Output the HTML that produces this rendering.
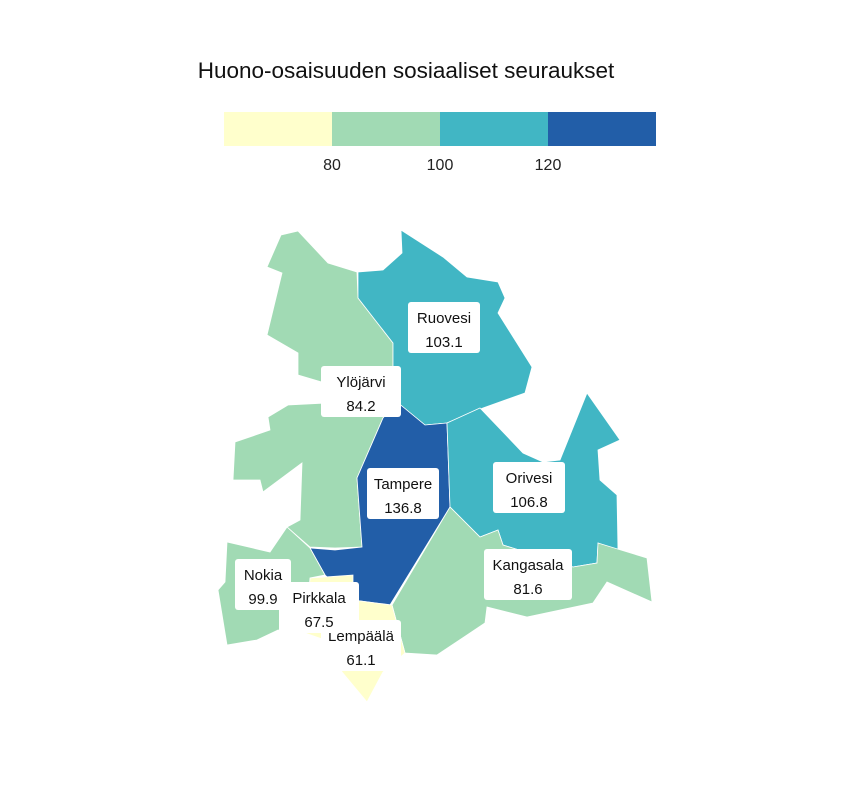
<!DOCTYPE html>
<html><head><meta charset="utf-8">
<style>
body{margin:0;background:#fff;font-family:"Liberation Sans",sans-serif;}
svg{display:block}
</style></head>
<body>
<svg width="864" height="792" viewBox="0 0 864 792">
<text x="406" y="78" font-size="22.5" text-anchor="middle" fill="#111">Huono-osaisuuden sosiaaliset seuraukset</text>
<g id="legend"></g>
<g id="map"></g>
<g id="labels"></g>
</svg>
<script>
const regions = ["Ylöjärvi","Ruovesi","Tampere","Orivesi","Kangasala","Lempäälä","Pirkkala","Nokia"];
const values = [84.2,103.1,136.8,106.8,81.6,61.1,67.5,99.9];
const breaks = [80,100,120];
const colors = ["#ffffcc","#a1dab4","#41b6c4","#225ea8"];
const tickLabels = ["80","100","120"];

const shapes = {
"Ylöjärvi":"267,267 281,235 298,231 328,263 357,272 358,298 393,343 393,367 395,402 383,418 357,478 362,547 335,548 310,547 287,527 300,520 302,463 263,492 260,480 233,480 235,442 270,430 268,417 288,405 327,403 325,383 298,375 298,353 267,335 282,273",
"Ruovesi":"358,272 383,270 402,253 401,230 443,257 467,277 498,282 505,298 498,313 532,367 525,393 483,408 447,423 425,425 397,402 393,367 393,343 358,298",
"Tampere":"397,402 425,425 447,423 450,507 390,605 353,600 325,575 310,548 335,550 362,547 357,478 383,418",
"Orivesi":"447,423 480,408 523,453 543,462 560,460 587,393 620,440 598,450 600,480 617,495 618,550 598,543 597,563 573,567 503,545 498,530 480,537 450,507",
"Kangasala":"450,507 480,537 498,530 503,545 573,567 597,563 598,543 647,558 652,602 607,582 593,603 527,617 487,607 485,623 437,655 405,653 392,605",
"Lempäälä":"353,600 392,605 405,653 383,672 367,702 342,672 325,640 340,630",
"Pirkkala":"310,578 353,575 353,600 340,630 325,640 305,633",
"Nokia":"227,542 270,552 287,527 310,548 325,575 310,578 305,633 278,630 257,640 227,645 218,590 225,582"
};
const labelPos = {
"Ylöjärvi":[361,392],"Ruovesi":[444,328],"Tampere":[403,494],"Orivesi":[529,488],
"Kangasala":[528,575],"Lempäälä":[361,646],"Nokia":[263,585],"Pirkkala":[319,608]
};
const labelOrder = ["Ruovesi","Ylöjärvi","Tampere","Orivesi","Kangasala","Lempäälä","Nokia","Pirkkala"];

function colorFor(v){let i=0;while(i<breaks.length&&v>=breaks[i])i++;return colors[i];}
const NS="http://www.w3.org/2000/svg";
const lx = v => 224 + (v-60)/80*432;
const leg=document.getElementById('legend');
const edges=[60].concat(breaks).concat([140]);
for(let i=0;i<colors.length;i++){
  const r=document.createElementNS(NS,'rect');
  r.setAttribute('x',lx(edges[i]));r.setAttribute('y',112);
  r.setAttribute('width',lx(edges[i+1])-lx(edges[i]));r.setAttribute('height',34);
  r.setAttribute('fill',colors[i]);
  
  
  leg.appendChild(r);
}
breaks.forEach((b,i)=>{
  const t=document.createElementNS(NS,'text');
  t.setAttribute('x',lx(b));t.setAttribute('y',170);t.setAttribute('text-anchor','middle');
  t.setAttribute('font-size','16');t.setAttribute('fill','#222');
  t.textContent=tickLabels[i];
  
  
  leg.appendChild(t);
});
const map=document.getElementById('map');
regions.forEach((n,i)=>{
  const p=document.createElementNS(NS,'polygon');
  p.setAttribute('points',shapes[n]);
  p.setAttribute('fill',colorFor(values[i]));
  p.setAttribute('stroke','#fff');p.setAttribute('stroke-width','0.8');
  
  
  map.appendChild(p);
});
const lab=document.getElementById('labels');
labelOrder.forEach(n=>{
  const i=regions.indexOf(n);
  const [cx,cy]=labelPos[n];
  const g=document.createElementNS(NS,'g');
  
  
  const w=Math.max(n.length*8+16,56);
  const r=document.createElementNS(NS,'rect');
  r.setAttribute('x',cx-w/2);r.setAttribute('y',cy-26);r.setAttribute('width',w);r.setAttribute('height',51);
  r.setAttribute('rx',3);r.setAttribute('fill','#fff');
  g.appendChild(r);
  const t1=document.createElementNS(NS,'text');
  t1.setAttribute('x',cx);t1.setAttribute('y',cy-5);t1.setAttribute('text-anchor','middle');
  t1.setAttribute('font-size','15');t1.setAttribute('fill','#111');t1.textContent=n;
  g.appendChild(t1);
  const t2=document.createElementNS(NS,'text');
  t2.setAttribute('x',cx);t2.setAttribute('y',cy+19);t2.setAttribute('text-anchor','middle');
  t2.setAttribute('font-size','15');t2.setAttribute('fill','#111');t2.textContent=values[i].toFixed(1);
  g.appendChild(t2);
  lab.appendChild(g);
});
</script>
</body></html>
